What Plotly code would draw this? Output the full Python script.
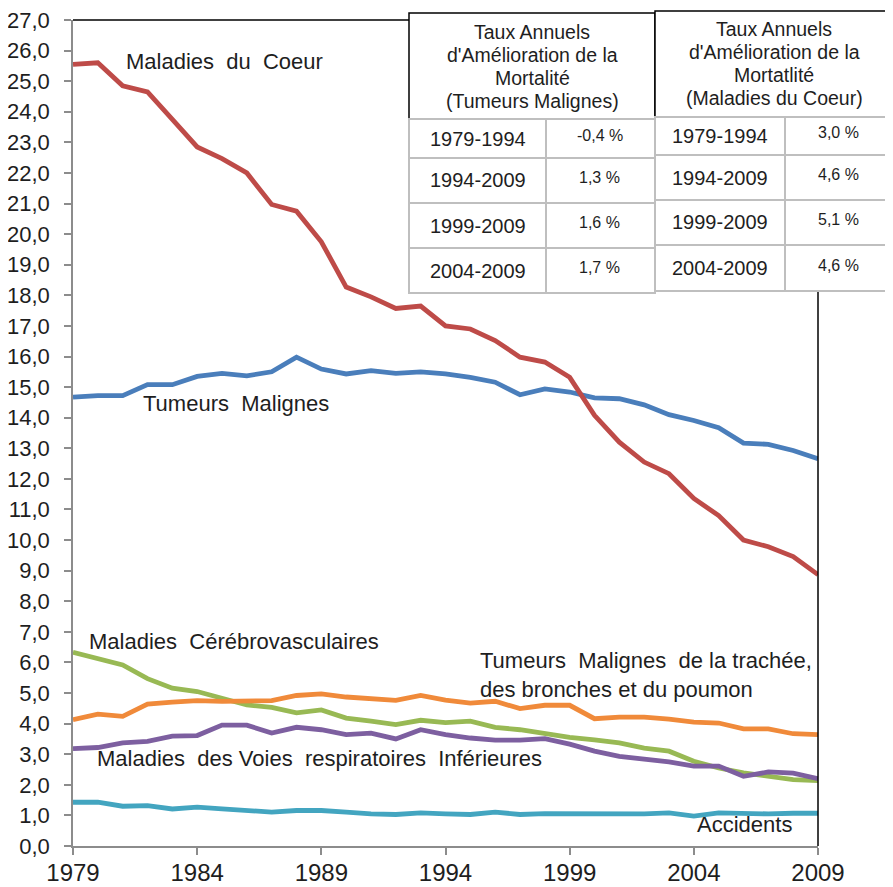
import plotly.graph_objects as go

years = list(range(1979, 2010))

coeur = [25.55, 25.6, 24.85, 24.65, 23.75, 22.85, 22.47, 22.0, 20.97, 20.75,
         19.75, 18.27, 17.95, 17.57, 17.65, 17.0, 16.9, 16.52, 15.98, 15.82,
         15.32, 14.08, 13.2, 12.55, 12.17, 11.36, 10.8, 10.0, 9.78, 9.46, 8.87]
tumeurs = [14.67, 14.72, 14.72, 15.08, 15.08, 15.35, 15.45, 15.37, 15.5, 15.98,
           15.59, 15.43, 15.54, 15.45, 15.5, 15.43, 15.32, 15.16, 14.75, 14.94,
           14.84, 14.65, 14.62, 14.42, 14.1, 13.91, 13.67, 13.17, 13.13, 12.93, 12.66]
cerebro = [6.33, 6.14, 5.92, 5.47, 5.16, 5.05, 4.81, 4.61, 4.53, 4.35,
           4.45, 4.18, 4.08, 3.97, 4.11, 4.03, 4.08, 3.88, 3.8, 3.67,
           3.55, 3.47, 3.37, 3.2, 3.1, 2.77, 2.55, 2.39, 2.28, 2.17, 2.14]
poumon = [4.13, 4.31, 4.24, 4.64, 4.7, 4.75, 4.73, 4.75, 4.75, 4.92,
          4.97, 4.87, 4.81, 4.76, 4.92, 4.77, 4.67, 4.73, 4.49, 4.6,
          4.6, 4.16, 4.21, 4.21, 4.15, 4.05, 4.02, 3.83, 3.83, 3.67, 3.64]
respir = [3.18, 3.22, 3.37, 3.42, 3.59, 3.61, 3.95, 3.95, 3.69, 3.88,
          3.8, 3.64, 3.69, 3.5, 3.8, 3.64, 3.53, 3.46, 3.46, 3.51,
          3.33, 3.1, 2.93, 2.83, 2.75, 2.61, 2.61, 2.28, 2.42, 2.38, 2.2]
accidents = [1.43, 1.43, 1.3, 1.32, 1.21, 1.27, 1.21, 1.16, 1.11, 1.16,
             1.16, 1.11, 1.05, 1.03, 1.08, 1.05, 1.03, 1.11, 1.03, 1.06,
             1.06, 1.03, 1.03, 1.05, 1.08, 0.98, 1.08, 1.05, 1.05, 1.07, 1.07]

x_ticks = [1979, 1984, 1989, 1994, 1999, 2004, 2009]
y_ticks = list(range(0, 28))

periodes = ["1979-1994", "1994-2009", "1999-2009", "2004-2009"]
taux_tumeurs = ["-0,4 %", "1,3 %", "1,6 %", "1,7 %"]
taux_coeur = ["3,0 %", "4,6 %", "5,1 %", "4,6 %"]
entete_tumeurs = ["Taux Annuels", "d'Amélioration de la", "Mortalité", "(Tumeurs Malignes)"]
entete_coeur = ["Taux Annuels", "d'Amélioration de la", "Mortatlité", "(Maladies du Coeur)"]

OFF = 8  # default page body margin
W, H = 893 - OFF, 887 - OFF
# target plot area in page pixels: x 73..818, y 20..846
ML, MR = 73 - OFF, 893 - 818
MT, MB = 20 - OFF, 887 - 846
PW, PH = W - ML - MR, H - MT - MB
FONT = "Arial, Liberation Sans, sans-serif"
TXT = "#1e1e1e"


def px(x):
    return (x - OFF - ML) / PW


def py(y):
    return (OFF + H - MB - y) / PH


fig = go.Figure()
series = [
    (tumeurs, "#4A7EBB"),
    (coeur, "#BE4B48"),
    (cerebro, "#98B954"),
    (poumon, "#F08A3A"),
    (respir, "#7D5FA0"),
    (accidents, "#43A5C0"),
]
for vals, col in series:
    fig.add_trace(go.Scatter(x=years, y=vals, mode="lines",
                             line=dict(color=col, width=4.8), showlegend=False,
                             hoverinfo="skip"))

labels = [
    ("Maladies  du  Coeur", 1981.05, 25.63),
    ("Tumeurs  Malignes", 1981.75, 14.45),
    ("Maladies  Cérébrovasculaires", 1979.55, 6.69),
    ("Tumeurs  Malignes  de la trachée,<br>des bronches et du poumon", 1995.3, 5.58),
    ("Maladies  des Voies  respiratoires  Inférieures", 1979.9, 2.87),
    ("Accidents", 2004.05, 0.71),
]
for t, xx, yy in labels:
    fig.add_annotation(x=xx, y=yy, text=t, showarrow=False, xanchor="left",
                       yanchor="middle", align="left",
                       font=dict(family=FONT, size=22, color=TXT))

shapes = []
shapes.append(dict(type="line", xref="paper", yref="paper", x0=0, x1=1, y0=1, y1=1,
                   line=dict(color="#000000", width=1.5)))
shapes.append(dict(type="line", xref="paper", yref="paper", x0=1, x1=1, y0=0, y1=1,
                   line=dict(color="#000000", width=1.5)))

GRAY = "#BFBFBF"


def table(x_cols, y_head_top, y_rows, head_lines, head_y, periods, rates):
    shapes.append(dict(type="rect", xref="paper", yref="paper",
                       x0=px(x_cols[0]), x1=px(x_cols[2]), y0=py(y_head_top), y1=py(y_rows[0]),
                       fillcolor="white", line=dict(color="#000000", width=1.5), layer="above"))
    xc_head = px((x_cols[0] + min(x_cols[2], 893)) / 2)
    for k, line in enumerate(head_lines):
        fig.add_annotation(xref="paper", yref="paper", x=xc_head, y=py(head_y + 23 * k),
                           text=line, showarrow=False, xanchor="center", yanchor="middle",
                           font=dict(family=FONT, size=19.5, color=TXT))
    for i in range(4):
        for c in range(2):
            shapes.append(dict(type="rect", xref="paper", yref="paper",
                               x0=px(x_cols[c]), x1=px(x_cols[c + 1]),
                               y0=py(y_rows[i]), y1=py(y_rows[i + 1]),
                               fillcolor="white", line=dict(color=GRAY, width=2), layer="above"))
        yc = py((y_rows[i] + y_rows[i + 1]) / 2)
        fig.add_annotation(xref="paper", yref="paper", x=px((x_cols[0] + x_cols[1]) / 2), y=yc,
                           text=periods[i], showarrow=False, xanchor="center", yanchor="middle",
                           font=dict(family=FONT, size=20, color=TXT))
        fig.add_annotation(xref="paper", yref="paper",
                           x=px((x_cols[1] + min(x_cols[2], 893) - 2) / 2), y=yc + 3 / PH,
                           text=rates[i], showarrow=False, xanchor="center", yanchor="middle",
                           font=dict(family=FONT, size=16, color=TXT))


table([409, 546, 655], 13, [119, 158, 203, 248, 293], entete_tumeurs, 32, periodes, taux_tumeurs)
table([655, 785, 905], 11, [117, 155, 200, 245, 291], entete_coeur, 29, periodes, taux_coeur)

fig.update_layout(
    width=W, height=H,
    margin=dict(l=ML, r=MR, t=MT, b=MB, pad=0, autoexpand=False),
    paper_bgcolor="white", plot_bgcolor="white",
    separators=", ",
    shapes=shapes,
    font=dict(family=FONT, color=TXT),
)
fig.update_xaxes(range=[1979, 2009], tickvals=x_ticks, showgrid=False, zeroline=False,
                 automargin=False, ticklabeloverflow="allow",
                 showline=True, linecolor="#8C8C8C", linewidth=1.5,
                 ticks="outside", ticklen=7, tickcolor="#8C8C8C", tickwidth=1.5,
                 tickfont=dict(family=FONT, size=24, color=TXT), ticklabelstandoff=-3)
fig.update_yaxes(range=[0, 27], tickvals=y_ticks, tickformat=".1f", showgrid=False,
                 automargin=False, ticklabeloverflow="allow",
                 zeroline=False, showline=True, linecolor="#8C8C8C", linewidth=1.5,
                 ticks="outside", ticklen=7, tickcolor="#8C8C8C", tickwidth=1.5,
                 tickfont=dict(family=FONT, size=22, color=TXT), ticklabelstandoff=10)

fig.write_html("out.html")
